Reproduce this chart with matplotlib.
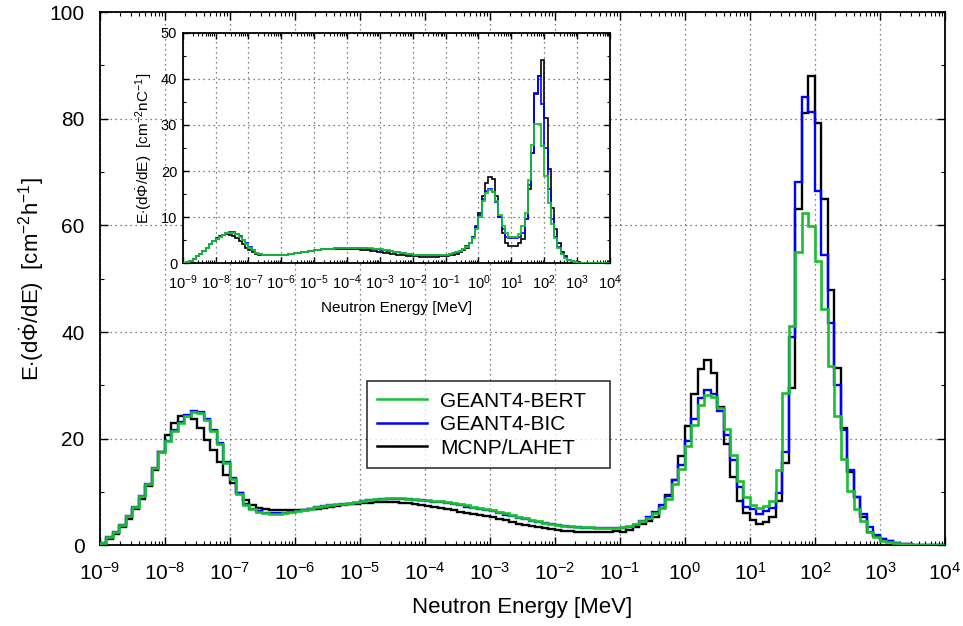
import numpy as np
import matplotlib
matplotlib.use("Agg")
import matplotlib.pyplot as plt
from matplotlib.ticker import LogLocator, MultipleLocator, NullFormatter

plt.rcParams['font.family'] = ['Liberation Sans', 'DejaVu Sans']
plt.rcParams['mathtext.fontset'] = 'custom'
plt.rcParams['mathtext.rm'] = 'Liberation Sans'
plt.rcParams['mathtext.it'] = 'Liberation Sans:italic'
plt.rcParams['mathtext.bf'] = 'Liberation Sans:bold'

# Bin edges: 10 bins per decade, 1e-9 .. 1e4 MeV
edges = np.logspace(-9, 4, 131)

# ---- main panel data [cm^-2 h^-1] ----
bert = [0.5, 1.5, 2.5, 3.8, 5.5, 7.2, 9.2, 11.5, 14.5, 17.5,
        19.5, 21.5, 23.0, 24.2, 25.0, 24.8, 23.5, 21.5, 19.0, 15.5,
        12.5, 9.7, 7.6, 6.8, 6.3, 6.0, 5.9, 5.9, 6.0, 6.2,
        6.4, 6.6, 6.9, 7.2, 7.4, 7.6, 7.7, 7.8, 7.9, 8.1,
        8.4, 8.6, 8.7, 8.8, 8.9, 8.9, 8.9, 8.8, 8.7, 8.6,
        8.5, 8.4, 8.3, 8.1, 7.9, 7.7, 7.5, 7.2, 7.0, 6.8,
        6.6, 6.3, 6.0, 5.7, 5.4, 5.1, 4.8, 4.5, 4.3, 4.1,
        3.9, 3.7, 3.6, 3.5, 3.4, 3.4, 3.3, 3.3, 3.3, 3.3,
        3.4, 3.6, 4.0, 4.5, 5.1, 6.0, 7.0, 8.7, 11.5, 14.3,
        18.6, 22.6, 26.3, 28.3, 27.9, 25.7, 21.8, 17.0, 12.1, 9.0,
        7.6, 7.0, 7.4, 8.4, 14.2, 28.5, 41.2, 55.0, 62.4, 59.8,
        53.3, 44.3, 33.7, 24.3, 16.3, 10.3, 6.8, 4.5, 2.6, 1.5,
        0.9, 0.6, 0.4, 0.3, 0.2, 0.15, 0.1, 0.08, 0.06, 0.05]

bic = [0.5, 1.5, 2.5, 3.8, 5.5, 7.2, 9.3, 11.6, 14.6, 17.6,
       19.6, 21.6, 23.1, 24.4, 25.2, 25.0, 23.7, 21.7, 19.2, 15.7,
       12.6, 9.8, 7.7, 6.9, 6.4, 6.1, 6.0, 6.0, 6.1, 6.3,
       6.5, 6.7, 6.9, 7.2, 7.4, 7.5, 7.6, 7.7, 7.8, 8.0,
       8.3, 8.5, 8.6, 8.7, 8.8, 8.8, 8.8, 8.7, 8.6, 8.5,
       8.4, 8.2, 8.1, 7.9, 7.7, 7.5, 7.3, 7.0, 6.8, 6.6,
       6.4, 6.1, 5.8, 5.5, 5.2, 4.9, 4.6, 4.4, 4.2, 4.0,
       3.8, 3.6, 3.5, 3.4, 3.3, 3.3, 3.2, 3.2, 3.2, 3.2,
       3.3, 3.5, 3.9, 4.5, 5.3, 6.3, 7.6, 9.3, 12.3, 15.1,
       19.5, 23.8, 27.6, 29.2, 28.4, 25.3, 20.8, 16.0, 11.0, 7.3,
       6.8, 5.9, 6.4, 7.0, 9.8, 17.6, 39.0, 68.2, 84.0, 81.3,
       66.5, 54.5, 41.7, 30.0, 21.7, 14.2, 9.0, 5.9, 3.5, 2.0,
       1.2, 0.8, 0.5, 0.35, 0.25, 0.18, 0.12, 0.1, 0.08, 0.06]

mcnp = [0.3, 1.2, 2.2, 3.5, 5.0, 6.8, 8.8, 11.2, 14.2, 17.5,
        20.7, 22.9, 24.3, 24.3, 23.7, 22.0, 19.8, 17.9, 15.7, 13.2,
        11.7, 9.8, 8.5, 7.6, 7.1, 6.8, 6.7, 6.6, 6.6, 6.6,
        6.6, 6.7, 6.8, 6.9, 7.1, 7.2, 7.4, 7.5, 7.7, 7.8,
        7.9, 8.0, 8.1, 8.1, 8.1, 8.1, 8.0, 7.9, 7.7, 7.6,
        7.4, 7.2, 7.0, 6.8, 6.6, 6.3, 6.1, 5.9, 5.7, 5.5,
        5.3, 5.0, 4.7, 4.4, 4.1, 3.8, 3.6, 3.4, 3.2, 3.0,
        2.9, 2.8, 2.7, 2.6, 2.5, 2.5, 2.5, 2.5, 2.6, 2.7,
        2.6, 2.9, 3.4, 4.0, 4.5, 5.4, 7.0, 9.5, 12.3, 16.7,
        22.4, 28.4, 33.0, 34.8, 32.3, 26.0, 19.0, 12.9, 8.3, 6.0,
        4.8, 4.1, 4.4, 5.3, 8.4, 15.4, 29.6, 63.0, 81.0, 88.1,
        79.2, 65.0, 47.8, 33.3, 22.1, 13.8, 9.0, 5.3, 2.6, 1.8,
        1.2, 0.8, 0.5, 0.35, 0.25, 0.18, 0.12, 0.1, 0.08, 0.06]

# ---- inset data [cm^-2 nC^-1] ----
in_bert = [0.1, 0.3, 0.6, 1.0, 1.5, 2.0, 2.7, 3.4, 4.1, 4.8,
           5.3, 5.8, 6.2, 6.5, 6.6, 6.6, 6.3, 5.8, 5.0, 4.2,
           3.4, 2.8, 2.3, 2.0, 1.8, 1.7, 1.7, 1.7, 1.7, 1.8,
           1.8, 1.9, 2.0, 2.1, 2.2, 2.3, 2.4, 2.5, 2.6, 2.7,
           2.8, 2.9, 3.0, 3.1, 3.2, 3.2, 3.3, 3.3, 3.4, 3.4,
           3.4, 3.4, 3.4, 3.4, 3.4, 3.4, 3.3, 3.3, 3.2, 3.1,
           3.0, 2.9, 2.8, 2.6, 2.5, 2.4, 2.3, 2.2, 2.1, 2.0,
           1.9, 1.8, 1.8, 1.7, 1.7, 1.7, 1.7, 1.7, 1.8, 1.8,
           1.9, 2.0, 2.2, 2.4, 2.7, 3.1, 3.6, 4.3, 5.5, 7.5,
           10.0, 13.5, 15.3, 15.8, 15.5, 13.5, 10.5, 8.0, 6.5, 5.8,
           5.8, 5.8, 6.3, 8.0, 11.0, 18.0, 25.7, 30.3, 30.3, 25.5,
           19.0, 13.0, 8.5, 5.5, 3.3, 2.0, 1.2, 0.7, 0.4, 0.25,
           0.15, 0.1, 0.08, 0.06, 0.05, 0.04, 0.03, 0.03, 0.02, 0.02]

in_bic = [0.1, 0.3, 0.6, 1.0, 1.5, 2.0, 2.7, 3.4, 4.1, 4.8,
          5.3, 5.8, 6.2, 6.5, 6.7, 6.7, 6.4, 5.9, 5.1, 4.3,
          3.5, 2.8, 2.3, 2.0, 1.8, 1.7, 1.7, 1.7, 1.7, 1.8,
          1.8, 1.9, 2.0, 2.1, 2.2, 2.3, 2.4, 2.5, 2.6, 2.7,
          2.8, 2.9, 3.0, 3.1, 3.2, 3.2, 3.3, 3.3, 3.3, 3.3,
          3.3, 3.3, 3.3, 3.3, 3.3, 3.3, 3.2, 3.2, 3.1, 3.0,
          2.9, 2.8, 2.7, 2.6, 2.5, 2.4, 2.3, 2.2, 2.1, 2.0,
          1.9, 1.8, 1.8, 1.7, 1.7, 1.7, 1.7, 1.7, 1.8, 1.8,
          1.9, 2.0, 2.2, 2.4, 2.7, 3.1, 3.7, 4.5, 5.8, 8.0,
          10.5, 14.0, 15.6, 16.0, 15.5, 13.2, 10.0, 7.4, 5.8, 5.5,
          5.5, 5.5, 5.8, 6.5, 9.5, 17.0, 24.0, 37.0, 40.7, 34.5,
          25.0, 16.0, 9.5, 5.8, 3.5, 2.1, 1.3, 0.8, 0.5, 0.3,
          0.2, 0.12, 0.09, 0.07, 0.05, 0.04, 0.03, 0.03, 0.02, 0.02]

in_mcnp = [0.1, 0.3, 0.6, 1.0, 1.5, 2.0, 2.7, 3.4, 4.1, 4.8,
           5.4, 5.9, 6.2, 6.3, 6.2, 5.9, 5.4, 4.8, 4.1, 3.4,
           2.8, 2.4, 2.1, 1.9, 1.8, 1.8, 1.8, 1.8, 1.8, 1.8,
           1.8, 1.9, 2.0, 2.1, 2.2, 2.3, 2.4, 2.5, 2.6, 2.7,
           2.8, 2.9, 3.0, 3.0, 3.1, 3.1, 3.1, 3.1, 3.1, 3.1,
           3.1, 3.1, 3.0, 3.0, 2.9, 2.9, 2.8, 2.7, 2.6, 2.5,
           2.4, 2.3, 2.2, 2.1, 2.0, 1.9, 1.8, 1.7, 1.6, 1.6,
           1.5, 1.5, 1.4, 1.4, 1.4, 1.4, 1.4, 1.4, 1.5, 1.5,
           1.6, 1.7, 1.9, 2.1, 2.4, 2.8, 3.4, 4.3, 5.6, 7.9,
           11.0, 14.5, 17.5, 18.8, 18.3, 14.5, 10.0, 6.5, 4.5, 3.8,
           3.8, 3.8, 4.3, 5.2, 9.5, 16.0, 24.0, 36.8, 40.5, 44.1,
           31.5, 20.5, 12.0, 7.5, 4.5, 2.5, 1.5, 0.8, 0.5, 0.3,
           0.2, 0.15, 0.1, 0.08, 0.06, 0.05, 0.04, 0.03, 0.03, 0.02]

labels = ['GEANT4-BERT', 'GEANT4-BIC', 'MCNP/LAHET']
colors = {'bert': '#18c030', 'bic': '#0000ff', 'mcnp': '#000000'}

fig = plt.figure(figsize=(9.63, 6.26), dpi=100)

def style_axes(ax, fs, ymajor, yminor, ymax, xpad, ypad):
    ax.set_xscale('log')
    ax.set_xlim(1e-9, 1e4)
    ax.set_ylim(0, ymax)
    ax.xaxis.set_major_locator(LogLocator(base=10, numticks=20))
    ax.xaxis.set_minor_locator(LogLocator(base=10, subs=np.arange(2, 10), numticks=200))
    ax.xaxis.set_minor_formatter(NullFormatter())
    ax.yaxis.set_major_locator(MultipleLocator(ymajor))
    ax.yaxis.set_minor_locator(MultipleLocator(yminor))
    ax.tick_params(which='both', direction='in', top=True, right=True, labelsize=fs)
    ax.tick_params(axis='x', which='major', pad=xpad)
    ax.tick_params(axis='y', which='major', pad=ypad)
    ax.tick_params(which='major', length=6, width=1)
    ax.tick_params(which='minor', length=3, width=0.8)
    ax.grid(True, which='major', linestyle=(0, (1, 3)), color='#555555', linewidth=0.9)
    for s in ax.spines.values():
        s.set_linewidth(1.3)

# main axes
ax = fig.add_axes([0.1038, 0.1286, 0.8775, 0.8522])
ax.stairs(mcnp, edges, color=colors['mcnp'], linewidth=1.7, label=labels[2], zorder=3)
ax.stairs(bic, edges, color=colors['bic'], linewidth=1.7, label=labels[1], zorder=4)
ax.stairs(bert, edges, color=colors['bert'], linewidth=1.9, label=labels[0], zorder=5)
style_axes(ax, 15, 20, 10, 100, xpad=12, ypad=11)
ax.set_xlabel('Neutron Energy [MeV]', fontsize=16, labelpad=9)
ax.set_ylabel(r'E$\cdot$(d$\dot{\Phi}$/dE)  [cm$^{-2}$h$^{-1}$]', fontsize=16, labelpad=2)

h, l = ax.get_legend_handles_labels()
order = [2, 1, 0]
leg = ax.legend([h[i] for i in order], [l[i] for i in order],
                loc='lower left', bbox_to_anchor=(0.316, 0.145, 0.288, 0.157),
                mode='expand', fontsize=15, frameon=True, fancybox=False,
                edgecolor='black', handlelength=2.4, handletextpad=0.6,
                borderpad=0.5, labelspacing=0.22, borderaxespad=0)
leg.get_frame().set_linewidth(1.2)
leg.set_zorder(10)
for line in leg.get_lines():
    line.set_linewidth(1.8)

# inset
axi = fig.add_axes([0.1897, 0.5794, 0.4437, 0.3684])
axi.set_facecolor('white')
axi.stairs(in_mcnp, edges, color=colors['mcnp'], linewidth=1.2, zorder=3)
axi.stairs(in_bic, edges, color=colors['bic'], linewidth=1.2, zorder=4)
axi.stairs(in_bert, edges, color=colors['bert'], linewidth=1.3, zorder=5)
style_axes(axi, 10.5, 10, 5, 50, xpad=7.5, ypad=4)
axi.tick_params(which='major', length=4)
axi.tick_params(which='minor', length=2)
axi.set_xlabel('Neutron Energy [MeV]', fontsize=11, labelpad=6)
axi.set_ylabel(r'E$\cdot$(d$\dot{\Phi}$/dE)  [cm$^{-2}$nC$^{-1}$]', fontsize=11, labelpad=4)

fig.savefig('out.png', dpi=100)
